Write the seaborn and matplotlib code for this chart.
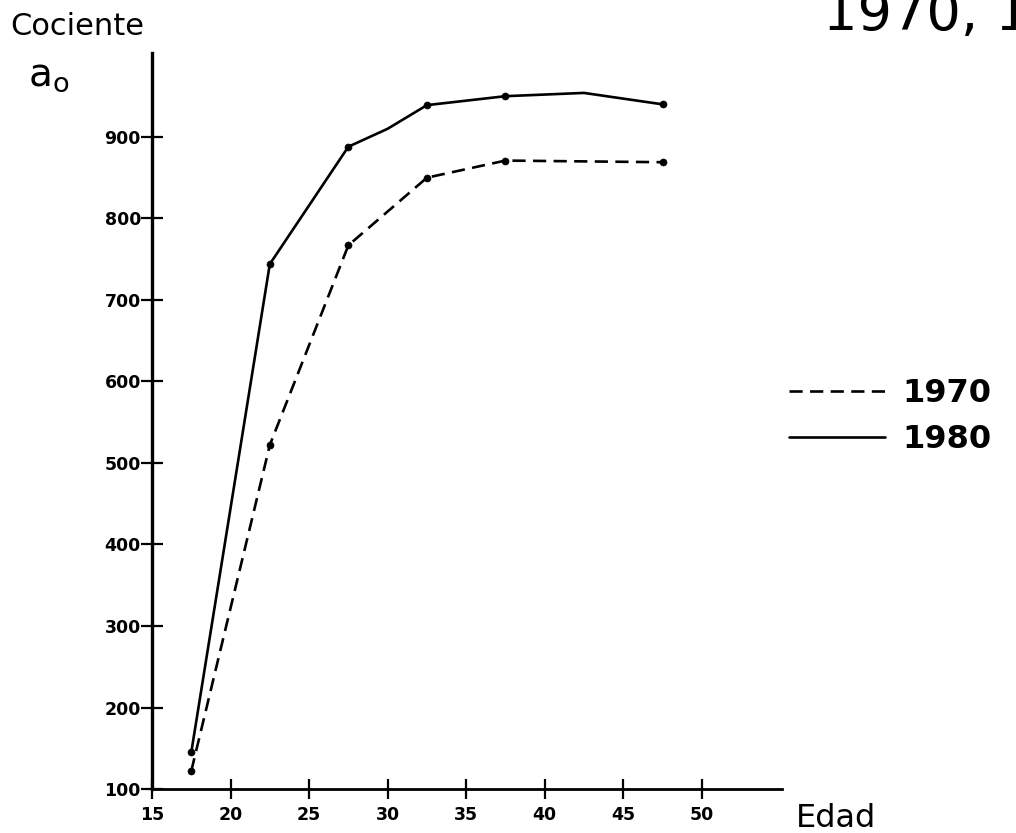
import numpy as np
import pandas as pd
import matplotlib
matplotlib.use("Agg")
import matplotlib.pyplot as plt
import seaborn as sns

# Valores (cociente por grupo de edad)
edad = [17.5, 22.5, 27.5, 32.5, 37.5, 47.5]
cociente_1970 = [122, 522, 767, 850, 871, 869]
cociente_1980 = [145, 744, 888, 939, 950, 940]

# La curva de 1980 tiene algunos vértices intermedios sin marcador
edad_trazo_1980 = [17.5, 22.5, 27.5, 30, 32.5, 37.5, 42.5, 47.5]
trazo_1980 = [145, 744, 888, 910, 939, 950, 954, 940]

ticks_x = [15, 20, 25, 30, 35, 40, 45, 50]
ticks_y = [100, 200, 300, 400, 500, 600, 700, 800, 900]

# Tablas largas para seaborn
df_trazo = pd.concat([
    pd.DataFrame({"Edad": edad, "Cociente": cociente_1970, "Año": "1970"}),
    pd.DataFrame({"Edad": edad_trazo_1980, "Cociente": trazo_1980, "Año": "1980"}),
], ignore_index=True)
df_puntos = pd.concat([
    pd.DataFrame({"Edad": edad, "Cociente": cociente_1970, "Año": "1970"}),
    pd.DataFrame({"Edad": edad, "Cociente": cociente_1980, "Año": "1980"}),
], ignore_index=True)

sns.set_style("white")
plt.rcParams['font.family'] = ['DejaVu Sans']
plt.rcParams['text.color'] = 'black'
plt.rcParams['xtick.color'] = 'black'
plt.rcParams['ytick.color'] = 'black'

fig = plt.figure(figsize=(10.16, 8.33), dpi=100)
ax = fig.add_axes([0.1496, 0.0528, 0.62, 0.8836])

estilos = {"1970": (5, 2.8), "1980": ""}
sns.lineplot(data=df_trazo, x="Edad", y="Cociente", hue="Año", style="Año",
             dashes=estilos, palette={"1970": "black", "1980": "black"},
             linewidth=1.9, ax=ax, legend=True, sort=False)
sns.scatterplot(data=df_puntos, x="Edad", y="Cociente", color="black",
                s=26, edgecolor="black", ax=ax, legend=False, zorder=3)

ax.set_xlim(15, 55.1)
ax.set_ylim(100, 1003)
ax.set_xticks(ticks_x)
ax.set_yticks(ticks_y)
ax.set_xticklabels([str(t) for t in ticks_x], fontsize=12.5, fontweight="bold")
ax.set_yticklabels([str(t) for t in ticks_y], fontsize=12.5, fontweight="bold")
ax.tick_params(axis="y", left=True, direction="inout", length=16, width=1.6, pad=0)
ax.tick_params(axis="x", bottom=True, direction="inout", length=14, width=1.6, pad=5)
ax.set_xlabel("")
ax.set_ylabel("")

sns.despine(ax=ax)
ax.spines["left"].set_linewidth(2.4)
ax.spines["bottom"].set_linewidth(2.0)
ax.spines["left"].set_color("black")
ax.spines["bottom"].set_color("black")

# Leyenda a la derecha
handles, labels = ax.get_legend_handles_labels()
for h in handles:
    h.set_linewidth(1.9)
ax.legend(handles, labels, loc="center left", bbox_to_anchor=(0.748, 0.5),
          bbox_transform=fig.transFigure, frameon=False,
          prop={"size": 23, "weight": "bold"},
          handlelength=3.0, handletextpad=0.55, labelspacing=0.45)

# Rótulos
fig.text(10 / 1016, 1 - 35 / 833, "Cociente", fontsize=22, va="baseline")
fig.text(28 / 1016, 1 - 86 / 833, r"$\mathregular{a_o}$", fontsize=28, va="baseline")
fig.text(796 / 1016, 1 - 827 / 833, "Edad", fontsize=23, va="baseline")
fig.text(823 / 1016, 1 - 30 / 833, "1970, 1980", fontsize=39, va="baseline")

fig.savefig("out.png", dpi=100)
